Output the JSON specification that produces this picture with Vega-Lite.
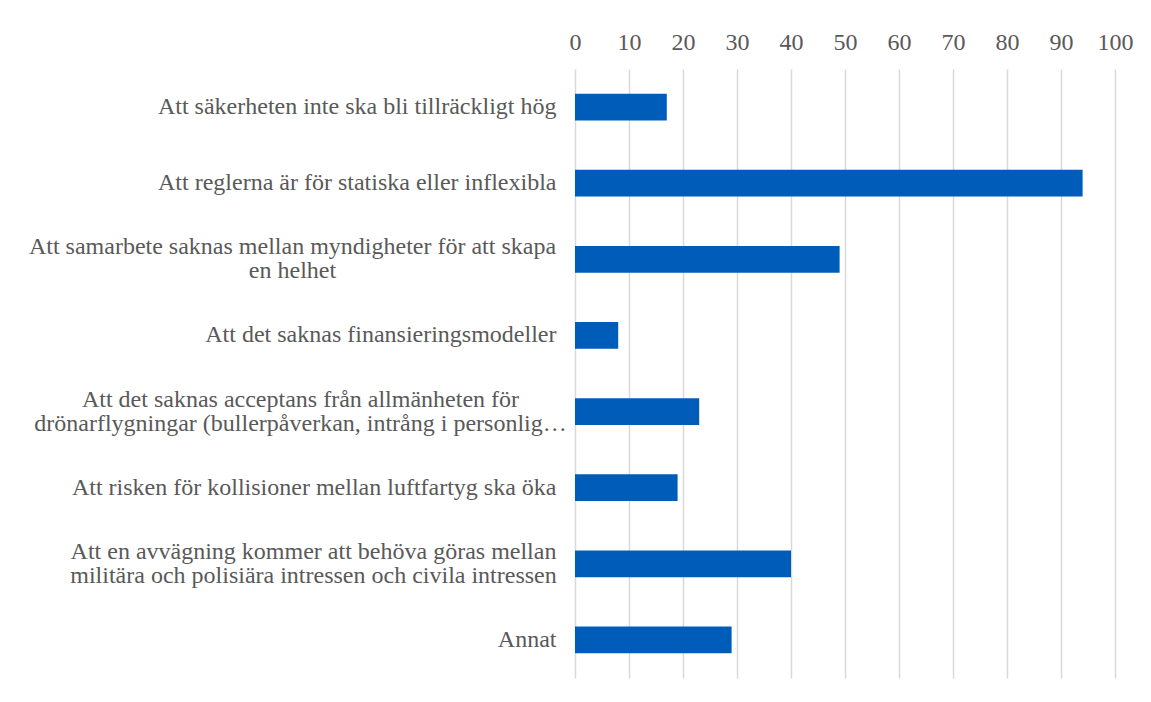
{
  "$schema": "https://vega.github.io/schema/vega-lite/v6.json",
  "width": 540,
  "height": 609,
  "autosize": {"type": "none"},
  "padding": {"left": 575, "top": 69, "right": 36, "bottom": 24},
  "background": "white",
  "data": {
    "values": [
      {"label": "Att säkerheten inte ska bli tillräckligt hög", "value": 17},
      {"label": "Att reglerna är för statiska eller inflexibla", "value": 94},
      {"label": "Att samarbete saknas mellan myndigheter för att skapa|en helhet", "value": 49},
      {"label": "Att det saknas finansieringsmodeller", "value": 8},
      {"label": "Att det saknas acceptans från allmänheten för|drönarflygningar (bullerpåverkan, intrång i personlig…", "value": 23},
      {"label": "Att risken för kollisioner mellan luftfartyg ska öka", "value": 19},
      {"label": "Att en avvägning kommer att behöva göras mellan|militära och polisiära intressen och civila intressen", "value": 40},
      {"label": "Annat", "value": 29}
    ]
  },
  "mark": {"type": "bar", "color": "#005CB9"},
  "encoding": {
    "y": {
      "field": "label",
      "type": "nominal",
      "sort": null,
      "scale": {"paddingInner": 0.65, "paddingOuter": 0.325},
      "axis": {
        "title": null,
        "domain": false,
        "ticks": false,
        "tickSize": 0,
        "labelAlign": {"condition": {"test": "indexof(datum.value, '|') >= 0", "value": "center"}, "value": "right"},
        "labelOffset": {"condition": {"test": "indexof(datum.value, '|') >= 0", "value": -12}, "value": 0},
        "labelPadding": {
          "condition": [
            {"test": "indexof(datum.value, 'samarbete') >= 0", "value": 283},
            {"test": "indexof(datum.value, 'acceptans') >= 0", "value": 275},
            {"test": "indexof(datum.value, 'avvägning') >= 0", "value": 262}
          ],
          "value": 19
        },
        "labelFont": "Liberation Serif, Times New Roman, serif",
        "labelFontSize": 24,
        "labelColor": "#595959",
        "labelLimit": 0,
        "labelLineHeight": 24,
        "labelExpr": "split(datum.label, '|')"
      }
    },
    "x": {
      "field": "value",
      "type": "quantitative",
      "scale": {"domain": [0, 100], "nice": false},
      "axis": {
        "orient": "top",
        "title": null,
        "values": [0, 10, 20, 30, 40, 50, 60, 70, 80, 90, 100],
        "domain": false,
        "ticks": false,
        "tickSize": 0,
        "labelPadding": 20,
        "labelBaseline": "alphabetic",
        "labelFont": "Liberation Serif, Times New Roman, serif",
        "labelFontSize": 24,
        "labelColor": "#595959",
        "labelFlush": false,
        "grid": true,
        "gridColor": "#D9D9D9",
        "gridWidth": 1.5
      }
    }
  },
  "config": {"view": {"stroke": null}, "font": "Liberation Serif"}
}
